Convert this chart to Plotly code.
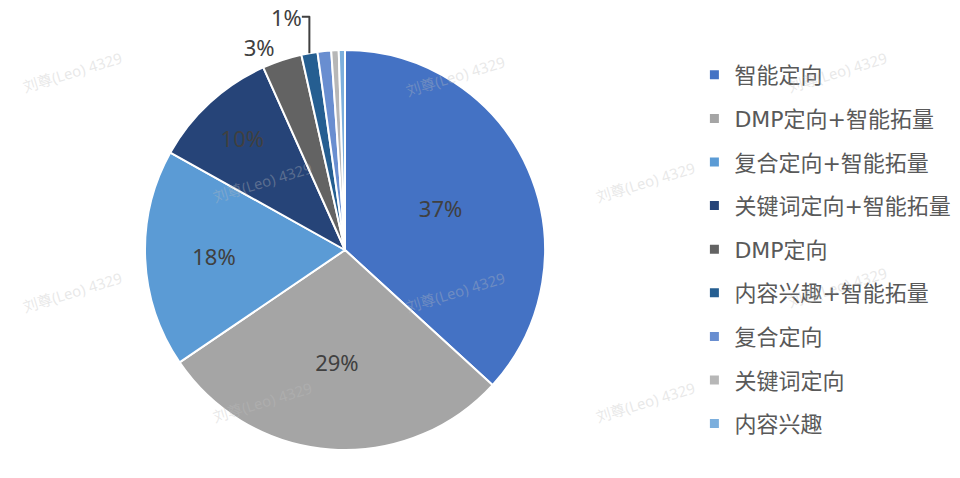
import plotly.graph_objects as go

# 定向方式占比
labels = ["智能定向", "DMP定向+智能拓量", "复合定向+智能拓量", "关键词定向+智能拓量",
          "DMP定向", "内容兴趣+智能拓量", "复合定向", "关键词定向", "内容兴趣"]
values = [36.8, 28.7, 17.6, 10.2, 3.2, 1.3, 1.1, 0.6, 0.5]
colors = ["#4472C4", "#A5A5A5", "#5B9BD5", "#264478", "#636363",
          "#255E91", "#698ED0", "#B7B7B7", "#7CAFDD"]
text_pos = ["inside", "inside", "inside", "inside", "outside", "outside", "none", "none", "none"]

watermark = "刘尊(Leo) 4329"
wm_x = [64, 447, 829, 254, 637, 64, 447, 829, 254, 637]
wm_y = [64, 68, 64, 174, 174, 284, 284, 279, 394, 394]

FONT = "Noto Sans, Noto Sans CJK SC, sans-serif"
LEG_FONT = "DejaVu Sans, Noto Sans CJK SC, sans-serif"

fig = go.Figure()
fig.add_trace(
    go.Pie(
        labels=labels,
        values=values,
        sort=False,
        direction="clockwise",
        rotation=0,
        marker=dict(colors=colors, line=dict(color="white", width=2)),
        texttemplate="%{percent:.0%}",
        textposition=text_pos,
        insidetextorientation="horizontal",
        textfont=dict(family=FONT, size=22, color="#404040"),
        showlegend=False,
        hoverinfo="label+percent",
        domain=dict(x=[137 / 960, 537 / 960], y=[36 / 478, 436 / 478]),
    )
)

# legend entries
for lab, col in zip(labels, colors):
    fig.add_trace(
        go.Scatter(
            x=[None], y=[None], mode="markers", name=lab, legendgroup=lab,
            marker=dict(symbol="square", size=9, color=col),
        )
    )

for x, y in zip(wm_x, wm_y):
    fig.add_annotation(
        x=x / 960, y=1 - y / 478, xref="paper", yref="paper",
        xanchor="center", yanchor="middle",
        text=watermark, showarrow=False, textangle=-17,
        font=dict(family=FONT, size=15, color="rgba(190,190,190,0.35)"),
    )

fig.update_layout(
    width=960, height=478,
    margin=dict(l=0, r=0, t=0, b=0, autoexpand=False),
    paper_bgcolor="white", plot_bgcolor="white",
    xaxis=dict(visible=False), yaxis=dict(visible=False),
    legend=dict(
        x=0.715, y=1 - 46 / 478, xanchor="left", yanchor="top",
        font=dict(family=LEG_FONT, size=22, color="#595959"),
        tracegroupgap=12, itemwidth=30,
    ),
    font=dict(family=FONT),
)

fig.write_html("out.html")
